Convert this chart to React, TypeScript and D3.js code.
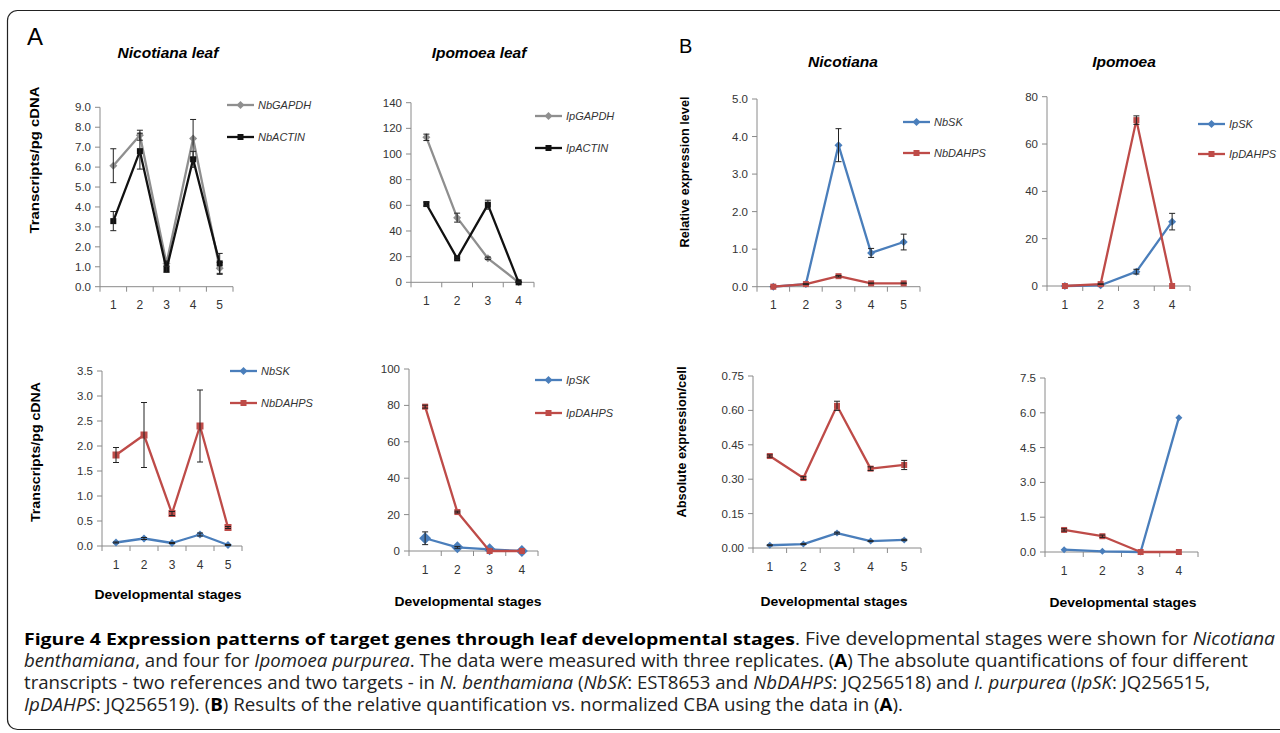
import React from 'react';
import * as d3 from 'd3';

// categories (developmental stages)
const stages5 = ['1', '2', '3', '4', '5'];
const stages4 = ['1', '2', '3', '4'];

// y tick values
const ticksNicoRef = [0, 1, 2, 3, 4, 5, 6, 7, 8, 9];
const ticksIpoRef = [0, 20, 40, 60, 80, 100, 120, 140];
const ticksNicoRel = [0, 1, 2, 3, 4, 5];
const ticksIpoRel = [0, 20, 40, 60, 80];
const ticksNicoAbs = [0, 0.5, 1, 1.5, 2, 2.5, 3, 3.5];
const ticksIpoAbs = [0, 20, 40, 60, 80, 100];
const ticksNicoCell = [0, 0.15, 0.3, 0.45, 0.6, 0.75];
const ticksIpoCell = [0, 1.5, 3, 4.5, 6, 7.5];

// A, top: reference genes (transcripts/pg cDNA)
const nbGapdh = [6.07, 7.6, 1.17, 7.44, 0.92];
const nbGapdhErr = [0.85, 0.25, 0.12, 0.95, 0.3];
const nbActin = [3.29, 6.8, 0.87, 6.39, 1.17];
const nbActinErr = [0.48, 0.9, 0.15, 0.4, 0.5];
const ipGapdh = [113, 50.4, 18.7, 0];
const ipGapdhErr = [2.5, 3.5, 1, 0.3];
const ipActin = [61, 18.7, 60.5, 0];
const ipActinErr = [1.5, 1, 3.5, 0.3];

// A, bottom: target genes (transcripts/pg cDNA)
const nbSkAbs = [0.07, 0.15, 0.06, 0.23, 0.02];
const nbSkAbsErr = [0.01, 0.02, 0.01, 0.03, 0.01];
const nbDahpsAbs = [1.82, 2.22, 0.65, 2.4, 0.37];
const nbDahpsAbsErr = [0.15, 0.65, 0.04, 0.72, 0.02];
const ipSkAbs = [7, 2, 0.9, 0];
const ipSkAbsErr = [3.5, 0.5, 0.2, 0.1];
const ipDahpsAbs = [79.3, 21.4, 0, 0];
const ipDahpsAbsErr = [0.8, 0.5, 0, 0];

// B, top: relative expression level
const nbSkRel = [0, 0.07, 3.77, 0.9, 1.19];
const nbSkRelErr = [0.01, 0.01, 0.44, 0.12, 0.21];
const nbDahpsRel = [0, 0.07, 0.28, 0.09, 0.09];
const nbDahpsRelErr = [0, 0.01, 0.02, 0.01, 0.01];
const ipSkRel = [0, 0.3, 6.06, 27.2];
const ipSkRelErr = [0, 0.1, 1, 3.5];
const ipDahpsRel = [0, 0.8, 70.1, 0];
const ipDahpsRelErr = [0, 0.1, 1.8, 0];

// B, bottom: absolute expression per cell
const nbSkCell = [0.012, 0.017, 0.065, 0.03, 0.035];
const nbSkCellErr = [0.002, 0.002, 0.004, 0.002, 0.003];
const nbDahpsCell = [0.401, 0.305, 0.62, 0.346, 0.362];
const nbDahpsCellErr = [0.005, 0.006, 0.02, 0.008, 0.02];
const ipSkCell = [0.1, 0.03, 0, 5.79];
const ipDahpsCell = [0.95, 0.68, 0, 0];
const ipDahpsCellErr = [0.05, 0.05, 0, 0];

const GREY = '#8f8f8f';
const BLACK = '#111';
const BLUE = '#4a7ebb';
const RED = '#be4b48';
const AXIS = '#8a8a8a';
const TXT = '#333';
const FONT = 'Liberation Sans, Arial, sans-serif';

const panels = [
  {
    key: 'aTL', cats: stages5, ticks: ticksNicoRef, fmt: '.1f',
    x0: 100, x1: 233, yBottom: 286.7, yTop: 107.3,
    title: 'Nicotiana leaf', titleX: 168, titleY: 58,
    yLabel: 'Transcripts/pg cDNA', yLabelX: 39, yLabelY: 160, yLabelLen: 147,
    legend: { x: 227, y: 105, gap: 32 },
    series: [
      { name: 'NbGAPDH', values: nbGapdh, errors: nbGapdhErr, color: GREY, marker: 'diamond', size: 4 },
      { name: 'NbACTIN', values: nbActin, errors: nbActinErr, color: BLACK, marker: 'square', size: 3 },
    ],
  },
  {
    key: 'aTR', cats: stages4, ticks: ticksIpoRef, fmt: 'd',
    x0: 411, x1: 534, yBottom: 282.3, yTop: 102.7,
    title: 'Ipomoea leaf', titleX: 479, titleY: 58,
    legend: { x: 535, y: 116, gap: 32 },
    series: [
      { name: 'IpGAPDH', values: ipGapdh, errors: ipGapdhErr, color: GREY, marker: 'diamond', size: 4 },
      { name: 'IpACTIN', values: ipActin, errors: ipActinErr, color: BLACK, marker: 'square', size: 3 },
    ],
  },
  {
    key: 'bTL', cats: stages5, ticks: ticksNicoRel, fmt: '.1f',
    x0: 757, x1: 920, yBottom: 286.7, yTop: 99,
    title: 'Nicotiana', titleX: 843, titleY: 67,
    yLabel: 'Relative expression level', yLabelX: 689, yLabelY: 172, yLabelLen: 151,
    legend: { x: 903, y: 122, gap: 31 },
    series: [
      { name: 'NbSK', values: nbSkRel, errors: nbSkRelErr, color: BLUE, marker: 'diamond', size: 4 },
      { name: 'NbDAHPS', values: nbDahpsRel, errors: nbDahpsRelErr, color: RED, marker: 'square', size: 3 },
    ],
  },
  {
    key: 'bTR', cats: stages4, ticks: ticksIpoRel, fmt: 'd',
    x0: 1047, x1: 1190, yBottom: 286, yTop: 96.7,
    title: 'Ipomoea', titleX: 1124, titleY: 67,
    legend: { x: 1198, y: 124, gap: 30 },
    series: [
      { name: 'IpSK', values: ipSkRel, errors: ipSkRelErr, color: BLUE, marker: 'diamond', size: 4 },
      { name: 'IpDAHPS', values: ipDahpsRel, errors: ipDahpsRelErr, color: RED, marker: 'square', size: 3 },
    ],
  },
  {
    key: 'aBL', cats: stages5, ticks: ticksNicoAbs, fmt: '.1f',
    x0: 102, x1: 242, yBottom: 546, yTop: 371,
    yLabel: 'Transcripts/pg cDNA', yLabelX: 40, yLabelY: 452, yLabelLen: 140,
    xLabelX: 168, xLabelY: 599,
    legend: { x: 230, y: 371, gap: 32 },
    series: [
      { name: 'NbSK', values: nbSkAbs, errors: nbSkAbsErr, color: BLUE, marker: 'diamond', size: 4 },
      { name: 'NbDAHPS', values: nbDahpsAbs, errors: nbDahpsAbsErr, color: RED, marker: 'square', size: 3.5 },
    ],
  },
  {
    key: 'aBR', cats: stages4, ticks: ticksIpoAbs, fmt: 'd',
    x0: 409, x1: 538, yBottom: 551, yTop: 369,
    xLabelX: 468, xLabelY: 606,
    legend: { x: 535, y: 380, gap: 33 },
    series: [
      { name: 'IpSK', values: ipSkAbs, errors: ipSkAbsErr, color: BLUE, marker: 'diamond', size: 6 },
      { name: 'IpDAHPS', values: ipDahpsAbs, errors: ipDahpsAbsErr, color: RED, marker: 'square', size: 3 },
    ],
  },
  {
    key: 'bBL', cats: stages5, ticks: ticksNicoCell, fmt: '.2f',
    x0: 753, x1: 921, yBottom: 548, yTop: 376,
    yLabel: 'Absolute expression/cell', yLabelX: 686, yLabelY: 442, yLabelLen: 151,
    xLabelX: 834, xLabelY: 606,
    series: [
      { name: 'NbSK', values: nbSkCell, errors: nbSkCellErr, color: BLUE, marker: 'diamond', size: 3.5 },
      { name: 'NbDAHPS', values: nbDahpsCell, errors: nbDahpsCellErr, color: RED, marker: 'square', size: 3 },
    ],
  },
  {
    key: 'bBR', cats: stages4, ticks: ticksIpoCell, fmt: '.1f',
    x0: 1045, x1: 1198, yBottom: 552, yTop: 378,
    xLabelX: 1123, xLabelY: 607,
    series: [
      { name: 'IpSK', values: ipSkCell, errors: null, color: BLUE, marker: 'diamond', size: 3.5 },
      { name: 'IpDAHPS', values: ipDahpsCell, errors: ipDahpsCellErr, color: RED, marker: 'square', size: 3 },
    ],
  },
];

function Marker({ type, x, y, r, color }: any) {
  if (type === 'diamond') {
    return <path d={`M${x},${y - r}L${x + r},${y}L${x},${y + r}L${x - r},${y}Z`} fill={color} />;
  }
  return <rect x={x - r} y={y - r} width={r * 2} height={r * 2} fill={color} />;
}

function Panel({ cfg }: any) {
  const x = d3.scaleBand().domain(cfg.cats).range([cfg.x0, cfg.x1]).padding(0);
  const maxY = cfg.ticks[cfg.ticks.length - 1];
  const y = d3.scaleLinear().domain([0, maxY]).range([cfg.yBottom, cfg.yTop]);
  const cx = (c: string) => (x(c) as number) + x.bandwidth() / 2;
  const fmt = d3.format(cfg.fmt);
  const line = d3.line<number>().x((_, i) => cx(cfg.cats[i])).y((d) => y(d));

  return (
    <g>
      {/* y axis */}
      <line x1={cfg.x0} x2={cfg.x0} y1={cfg.yTop} y2={cfg.yBottom} stroke={AXIS} />
      {cfg.ticks.map((t: number) => (
        <g key={t}>
          <line x1={cfg.x0 - 5} x2={cfg.x0} y1={y(t)} y2={y(t)} stroke={AXIS} />
          <text x={cfg.x0 - 9} y={y(t) + 4} textAnchor="end" fontSize={11.5} fill={TXT} fontFamily={FONT}>
            {fmt(t)}
          </text>
        </g>
      ))}
      {/* x axis */}
      <line x1={cfg.x0} x2={cfg.x1} y1={cfg.yBottom} y2={cfg.yBottom} stroke={AXIS} />
      {cfg.cats.map((c: string) => (
        <line key={'t' + c} x1={(x(c) as number) + x.bandwidth()} x2={(x(c) as number) + x.bandwidth()}
          y1={cfg.yBottom} y2={cfg.yBottom + 5} stroke={AXIS} />
      ))}
      <line x1={cfg.x0} x2={cfg.x0} y1={cfg.yBottom} y2={cfg.yBottom + 5} stroke={AXIS} />
      {cfg.cats.map((c: string) => (
        <text key={'l' + c} x={cx(c)} y={cfg.yBottom + 22.5} textAnchor="middle" fontSize={12} fill={TXT} fontFamily={FONT}>
          {c}
        </text>
      ))}

      {/* series */}
      {cfg.series.map((s: any) => (
        <g key={s.name}>
          <path d={line(s.values) as string} fill="none" stroke={s.color} strokeWidth={2.3} strokeLinejoin="round" />
          {s.values.map((v: number, i: number) => (
            <Marker key={i} type={s.marker} x={cx(cfg.cats[i])} y={y(v)} r={s.size} color={s.color} />
          ))}
          {s.errors && s.values.map((v: number, i: number) => {
            const e = s.errors[i];
            if (!e) return null;
            const px = cx(cfg.cats[i]);
            const hi = y(v + e);
            const lo = y(Math.max(0, v - e));
            return (
              <g key={'e' + i} stroke="#222" strokeWidth={1}>
                <line x1={px} x2={px} y1={hi} y2={lo} />
                <line x1={px - 3} x2={px + 3} y1={hi} y2={hi} />
                <line x1={px - 3} x2={px + 3} y1={lo} y2={lo} />
              </g>
            );
          })}
        </g>
      ))}

      {/* legend */}
      {cfg.legend && cfg.series.map((s: any, i: number) => {
        const ly = cfg.legend.y + i * cfg.legend.gap;
        return (
          <g key={'lg' + s.name}>
            <line x1={cfg.legend.x} x2={cfg.legend.x + 27} y1={ly} y2={ly} stroke={s.color} strokeWidth={2.3} />
            <Marker type={s.marker} x={cfg.legend.x + 13.5} y={ly} r={s.marker === 'diamond' ? 4 : 3} color={s.color} />
            <text x={cfg.legend.x + 31} y={ly + 4} fontSize={11} fontStyle="italic" fill={TXT} fontFamily={FONT}>
              {s.name}
            </text>
          </g>
        );
      })}

      {cfg.title && (
        <text x={cfg.titleX} y={cfg.titleY} textAnchor="middle" fontSize={15.5} fontWeight="bold" fontStyle="italic"
          fill="#000" fontFamily={FONT}>
          {cfg.title}
        </text>
      )}
      {cfg.yLabel && (
        <text transform={`translate(${cfg.yLabelX},${cfg.yLabelY}) rotate(-90)`} textAnchor="middle" fontSize={13}
          fontWeight="bold" fill="#000" fontFamily={FONT} textLength={cfg.yLabelLen} lengthAdjust="spacingAndGlyphs">
          {cfg.yLabel}
        </text>
      )}
      {cfg.xLabelX && (
        <text x={cfg.xLabelX} y={cfg.xLabelY} textAnchor="middle" fontSize={13} fontWeight="bold" fill="#000"
          fontFamily={FONT} textLength={147} lengthAdjust="spacingAndGlyphs">
          Developmental stages
        </text>
      )}
    </g>
  );
}

const CAP_FONT = 'Open Sans, Noto Sans, sans-serif';

export default function App() {
  return (
    <svg width={1280} height={733} style={{ position: 'absolute', left: 0, top: 0, background: '#fff' }}>
      <rect x={7.5} y={10.5} width={1290} height={719} rx={10} fill="none" stroke="#222" strokeWidth={1.2} />

      <text x={27} y={45} fontSize={24} fill="#000" fontFamily={FONT}>A</text>
      <text x={679} y={53} fontSize={20} fill="#000" fontFamily={FONT}>B</text>

      {panels.map((p) => (
        <Panel key={p.key} cfg={p} />
      ))}

      <g fontFamily={CAP_FONT} fontSize={18} fill="#222">
        <text x={24} y={645} fontWeight="bold" fontSize={16.5} fill="#000" textLength={771} lengthAdjust="spacingAndGlyphs">
          Figure 4 Expression patterns of target genes through leaf developmental stages
        </text>
        <text x={795} y={645} textLength={480} lengthAdjust="spacingAndGlyphs">
          <tspan>. Five developmental stages were shown for </tspan>
          <tspan fontStyle="italic">Nicotiana</tspan>
        </text>
        <text x={24} y={667} textLength={1224} lengthAdjust="spacingAndGlyphs">
          <tspan fontStyle="italic">benthamiana</tspan>
          <tspan>, and four for </tspan>
          <tspan fontStyle="italic">Ipomoea purpurea</tspan>
          <tspan>. The data were measured with three replicates. (</tspan>
          <tspan fontWeight="bold" fill="#000">A</tspan>
          <tspan>) The absolute quantifications of four different</tspan>
        </text>
        <text x={24} y={689} textLength={1186} lengthAdjust="spacingAndGlyphs">
          <tspan>transcripts - two references and two targets - in </tspan>
          <tspan fontStyle="italic">N. benthamiana</tspan>
          <tspan> (</tspan>
          <tspan fontStyle="italic">NbSK</tspan>
          <tspan>: EST8653 and </tspan>
          <tspan fontStyle="italic">NbDAHPS</tspan>
          <tspan>: JQ256518) and </tspan>
          <tspan fontStyle="italic">I. purpurea</tspan>
          <tspan> (</tspan>
          <tspan fontStyle="italic">IpSK</tspan>
          <tspan>: JQ256515,</tspan>
        </text>
        <text x={24} y={711} textLength={879} lengthAdjust="spacingAndGlyphs">
          <tspan fontStyle="italic">IpDAHPS</tspan>
          <tspan>: JQ256519). (</tspan>
          <tspan fontWeight="bold" fill="#000">B</tspan>
          <tspan>) Results of the relative quantification vs. normalized CBA using the data in (</tspan>
          <tspan fontWeight="bold" fill="#000">A</tspan>
          <tspan>).</tspan>
        </text>
      </g>
    </svg>
  );
}
